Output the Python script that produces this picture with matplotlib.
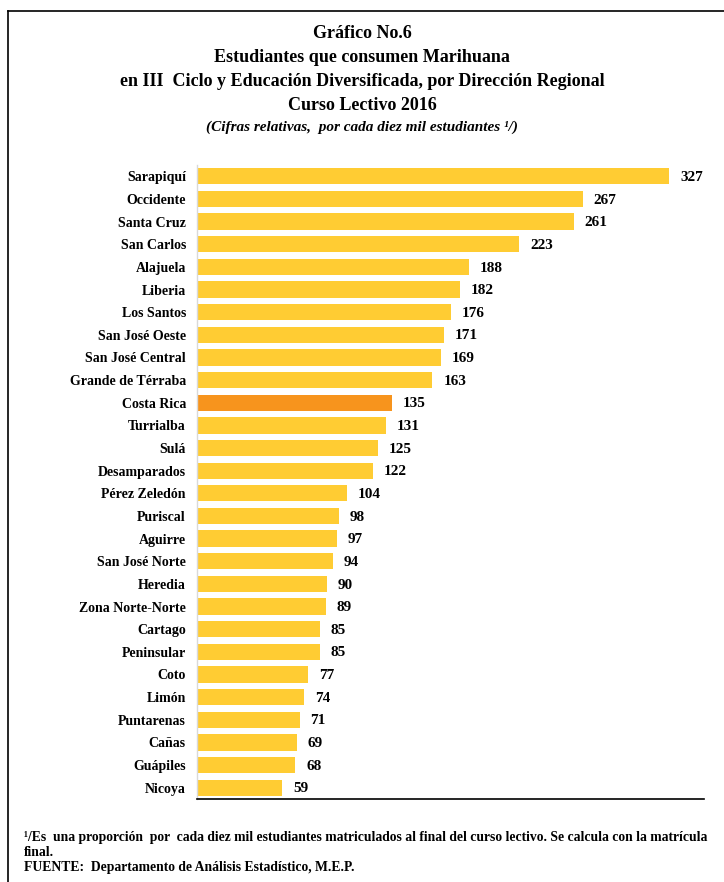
import matplotlib
matplotlib.use('Agg')
import matplotlib.pyplot as plt
from matplotlib.lines import Line2D

# Data
regions = ['Sarapiquí', 'Occidente', 'Santa Cruz', 'San Carlos', 'Alajuela',
           'Liberia', 'Los Santos', 'San José Oeste', 'San José Central',
           'Grande de Térraba', 'Costa Rica', 'Turrialba', 'Sulá',
           'Desamparados', 'Pérez Zeledón', 'Puriscal', 'Aguirre',
           'San José Norte', 'Heredia', 'Zona Norte-Norte', 'Cartago',
           'Peninsular', 'Coto', 'Limón', 'Puntarenas', 'Cañas', 'Guápiles',
           'Nicoya']
values = [327, 267, 261, 223, 188, 182, 176, 171, 169, 163, 135, 131, 125,
          122, 104, 98, 97, 94, 90, 89, 85, 85, 77, 74, 71, 69, 68, 59]
highlight = 'Costa Rica'

title_lines = ['Gráfico No.6',
               'Estudiantes que consumen Marihuana',
               'en III  Ciclo y Educación Diversificada, por Dirección Regional',
               'Curso Lectivo 2016']
subtitle = '(Cifras relativas,  por cada diez mil estudiantes ¹/)'
footnote = ('¹/Es  una proporción  por  cada diez mil estudiantes matriculados al final '
            'del curso lectivo. Se calcula con la matrícula')
footnote2 = 'final.'
source = 'FUENTE:  Departamento de Análisis Estadístico, M.E.P.'

W, H = 724, 882
plt.rcParams['font.family'] = ['Liberation Serif', 'DejaVu Serif']
plt.rcParams['font.weight'] = 'bold'

fig = plt.figure(figsize=(W / 100, H / 100), dpi=100)


def fx(px):
    return px / W


def fy(py):
    return 1 - py / H


ax = fig.add_axes([fx(197), fy(799), fx(704) - fx(197), fy(165) - fy(799)])

gold = '#FFCC33'
orange = '#F7941D'
colors = [orange if r == highlight else gold for r in regions]
ypos = list(range(len(regions)))[::-1]
ax.barh(ypos, values, height=0.72, color=colors, edgecolor='none')

for y, v in zip(ypos, values):
    ax.text(v + 7.5, y - 0.05, str(v), va='center', ha='left', fontsize=11,
            fontweight='bold')

ax.set_yticks(ypos)
ax.set_yticklabels(regions, fontsize=10, fontweight='bold')
ax.tick_params(axis='y', length=0, pad=8)
ax.set_xticks([])
ax.set_xlim(0, 351)
ax.set_ylim(-0.5, len(regions) - 0.5)

for s in ['top', 'right']:
    ax.spines[s].set_visible(False)
ax.spines['left'].set_color('#D9D9D9')
ax.spines['left'].set_linewidth(1.0)
ax.spines['bottom'].set_color('black')
ax.spines['bottom'].set_linewidth(1.2)

# Titles
title_y = [33, 58, 81, 105]
for t, y in zip(title_lines, title_y):
    fig.text(0.5, fy(y), t, ha='center', va='center', fontsize=13,
             fontweight='bold')
fig.text(0.5, fy(127), subtitle, ha='center', va='center', fontsize=11,
         fontweight='bold', fontstyle='italic')

# Footer
fig.text(fx(24), fy(837), footnote, ha='left', va='center', fontsize=9.8,
         fontweight='bold')
fig.text(fx(24), fy(852), footnote2, ha='left', va='center', fontsize=9.8,
         fontweight='bold')
fig.text(fx(24), fy(868), source, ha='left', va='center', fontsize=9.8,
         fontweight='bold')

# Frame lines at top and left
fig.add_artist(Line2D([fx(8), 1], [fy(11), fy(11)], color='black', lw=1.2))
fig.add_artist(Line2D([fx(8), fx(8)], [fy(11), 0], color='black', lw=1.2))

fig.savefig('out.png', dpi=100)
